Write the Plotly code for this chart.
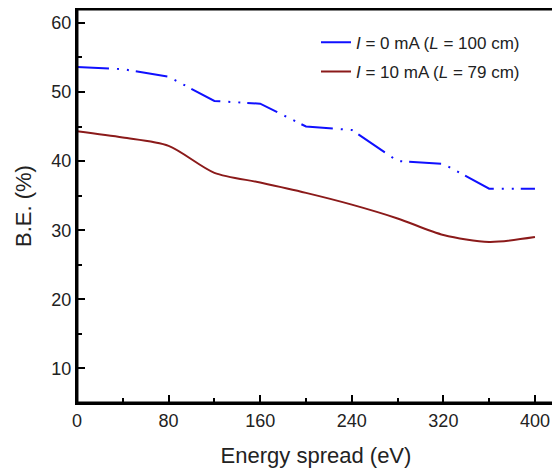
import plotly.graph_objects as go

energy_spread = [0, 40, 80, 120, 160, 200, 240, 280, 320, 360, 400]
be_i0 = [53.6, 53.3, 52.2, 48.7, 48.3, 45.0, 44.5, 40.0, 39.6, 36.0, 36.0]
be_i10 = [44.3, 43.4, 42.2, 38.3, 36.9, 35.4, 33.7, 31.7, 29.3, 28.3, 29.0]

name_i0 = "<i>I</i> = 0 mA (<i>L</i> = 100 cm)"
name_i10 = "<i>I</i> = 10 mA (<i>L</i> = 79 cm)"

x_ticks = [0, 80, 160, 240, 320, 400]
y_ticks = [10, 20, 30, 40, 50, 60]

fig = go.Figure()
fig.add_trace(go.Scatter(
    x=energy_spread, y=be_i0, mode="lines", name=name_i0, legendgroup="a",
    line=dict(color="#1010ff", width=2, dash="32px,8px,2px,8px,2px,7px"),
))
fig.add_trace(go.Scatter(
    x=energy_spread, y=be_i10, mode="lines", name=name_i10, legendgroup="b",
    line=dict(color="#8b1a1a", width=2, shape="spline", smoothing=0.8),
))

axis_common = dict(
    showline=True, linecolor="black", linewidth=2, mirror=True,
    ticks="inside", ticklen=8, tickwidth=1.5, tickcolor="black",
    showgrid=False, zeroline=False, automargin=False,
    tickfont=dict(family="Liberation Sans, Arial, sans-serif", size=18, color="#222"),
)

frame_style = dict(type="line", xref="paper", yref="paper",
                   line=dict(color="black", width=2), layer="above")

# page body has an 8px margin; margins are offset to compensate
fig.update_layout(
    width=560, height=472,
    margin=dict(l=69, r=13, t=1, b=77),
    paper_bgcolor="white", plot_bgcolor="white",
    font=dict(family="Liberation Sans, Arial, sans-serif", color="#222"),
    showlegend=True,
    legend=dict(
        x=0.50, y=0.96, xanchor="left", yanchor="top",
        bgcolor="rgba(0,0,0,0)", borderwidth=0,
        font=dict(size=17, color="#222"),
        traceorder="grouped", tracegroupgap=4,
    ),
    xaxis=dict(
        range=[0, 417.5], tickvals=x_ticks,
        minor=dict(dtick=40, tick0=0, ticks="inside", ticklen=5, tickwidth=1.5, tickcolor="black"),
        title=dict(text="Energy spread (eV)", font=dict(size=22), standoff=18),
        **axis_common,
    ),
    yaxis=dict(
        range=[5, 62], tickvals=y_ticks,
        minor=dict(dtick=5, tick0=0, ticks="inside", ticklen=5, tickwidth=1.5, tickcolor="black"),
        title=dict(text="B.E. (%)", font=dict(size=22), standoff=14),
        **axis_common,
    ),
    shapes=[
        dict(x0=0, x1=1, y0=0.001, y1=0.001, **frame_style),
        dict(x0=0, x1=1, y0=0.999, y1=0.999, **frame_style),
        dict(x0=0.001, x1=0.001, y0=0, y1=1, **frame_style),
        dict(x0=0.999, x1=0.999, y0=0, y1=1, **frame_style),
    ],
)

fig.write_html("out.html")
